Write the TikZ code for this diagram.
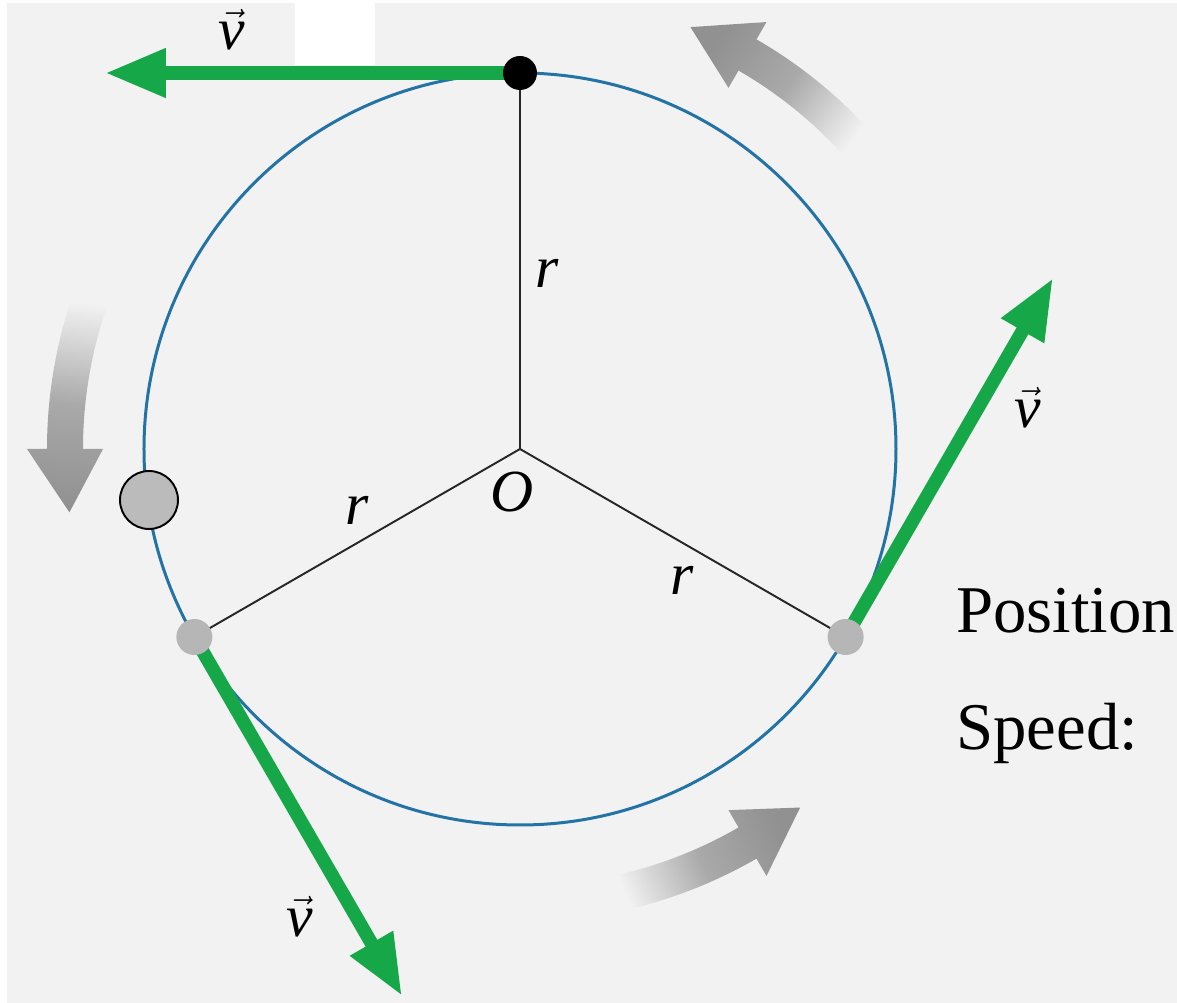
\documentclass[tikz,border=0pt]{standalone}
\usepackage{fontspec}
\setmainfont{Liberation Serif}
\usepackage{tikz}
\usetikzlibrary{arrows.meta}
\definecolor{bg}{RGB}{242,242,242}
\definecolor{vgreen}{RGB}{22,168,72}
\definecolor{orbit}{RGB}{35,115,165}
\definecolor{ballgrey}{RGB}{187,187,187}
\definecolor{dotgrey}{RGB}{182,182,182}
\definecolor{turngrey}{RGB}{145,145,145}

\begin{document}
\begin{tikzpicture}[x=0.02cm, y=0.02cm,
        vec/.style={vgreen, line width=0.27cm, -{Triangle[length=1.22cm, width=0.92cm]}},
        spoke/.style={draw=black!85, line width=1.1pt},
        lbl/.style={font=\fontsize{34}{40}\selectfont\itshape, inner sep=0pt},
        txt/.style={font=\fontsize{38}{46}\selectfont, anchor=base west, inner sep=0pt},
        blackdot/.style={circle, fill=black, minimum size=0.68cm, inner sep=0pt},
        greydot/.style={circle, fill=dotgrey, minimum size=0.72cm, inner sep=0pt},
        turn/.style={top color=turngrey, bottom color=bg, middle color=turngrey!75!bg}]

    \useasboundingbox (-520,449) rectangle (657,-554);
    \fill[bg] (-513,446) rectangle (657,-554);
    \fill[white] (-225,449) rectangle (-145,384);

    % direction of motion
    \shade[turn, shading angle=54] (41:473) arc[start angle=41, end angle=60, radius=473]
        -- (60:493) -- (68:455) -- (60:417) -- (60:437) arc[start angle=60, end angle=41, radius=437] -- cycle;
    \shade[turn, shading angle=174] (161:473) arc[start angle=161, end angle=180, radius=473]
        -- (180:493) -- (188:455) -- (180:417) -- (180:437) arc[start angle=180, end angle=161, radius=437] -- cycle;
    \shade[turn, shading angle=294] (281:473) arc[start angle=281, end angle=300, radius=473]
        -- (300:493) -- (308:455) -- (300:417) -- (300:437) arc[start angle=300, end angle=281, radius=437] -- cycle;

    % path and radii
    \coordinate (O) at (0,0);
    \coordinate (A) at (90:376);
    \coordinate (B) at (210:376);
    \coordinate (C) at (330:376);
    \draw[orbit, line width=0.06cm] (O) circle[radius=376];
    \draw[spoke] (O) -- (A);
    \draw[spoke] (O) -- (B);
    \draw[spoke] (O) -- (C);

    % velocity
    \coordinate (tA) at (-415,376);
    \coordinate (tB) at (-118,-547);
    \coordinate (tC) at (533,171);
    \draw[vec] (A) -- (tA);
    \draw[vec] (B) -- (tB);
    \draw[vec] (C) -- (tC);

    \node[blackdot] (a) at (A) {};
    \node[greydot] (b) at (B) {};
    \node[greydot] (c) at (C) {};
    \node[circle, fill=ballgrey, draw=black, line width=1.1pt, minimum size=1.16cm, inner sep=0pt] (ball) at (-371,-51) {};

    \node[lbl] (ra) at (27,176) {r};
    \node[lbl] (rb) at (-163,-61) {r};
    \node[lbl] (rc) at (162,-131) {r};
    \node[lbl] (o) at (-8,-43) {O};
    \node[lbl] (va) at (-288,419) {$\vec{\textit{v}}$};
    \node[lbl] (vc) at (508,41) {$\vec{\textit{v}}$};
    \node[lbl] (vb) at (-220,-468) {$\vec{\textit{v}}$};

    \node[txt] (pos) at (436,-184) {Position};
    \node[txt] (spd) at (436,-301) {Speed:};

\end{tikzpicture}
\end{document}
